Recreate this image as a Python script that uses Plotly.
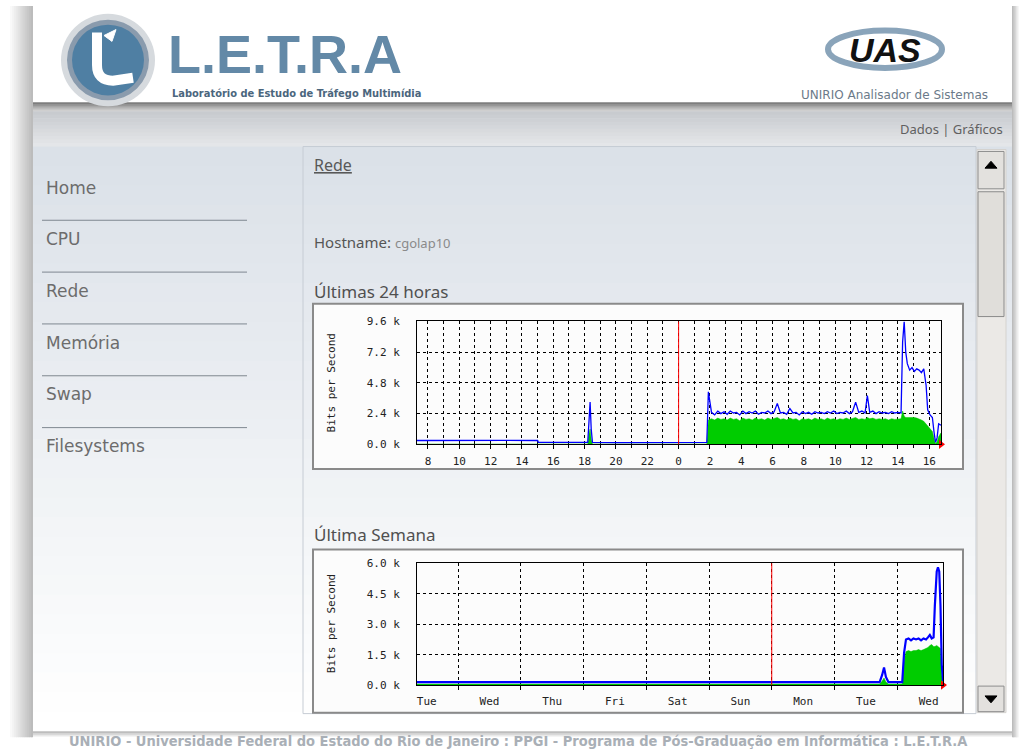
import plotly.graph_objects as go

W, H = 1022, 756

# ---------------- data ----------------
# Daily graph: hours since midnight of day 1 (24 = 00:00 of day 2), values in k bits/s
day_hours = [7.3, 9.0, 11.0, 13.0, 15.0, 15.05, 17.0, 18.2, 18.28, 18.35, 18.42, 18.5, 20.0, 22.0, 24.0, 25.8,
             25.9, 26.1, 26.3, 26.5, 26.7, 26.9, 27.1, 27.3, 27.5, 27.7, 27.9, 28.1, 28.3, 28.5, 28.7, 28.9,
             29.1, 29.3, 29.5, 29.7, 29.9, 30.1, 30.3, 30.5, 30.7, 30.9, 31.1, 31.3, 31.5, 31.7, 31.9, 32.1,
             32.3, 32.5, 32.7, 32.9, 33.1, 33.3, 33.5, 33.7, 33.9, 34.1, 34.3, 34.5, 34.7, 34.9, 35.1, 35.3,
             35.5, 35.7, 35.9, 36.05, 36.2, 36.4, 36.6, 36.8, 37.0, 37.2, 37.4, 37.6, 37.8, 38.0, 38.2,
             38.3, 38.4, 38.5, 38.6, 38.75, 38.9, 39.05, 39.2, 39.35, 39.5, 39.65, 39.8, 39.9, 40.05, 40.2,
             40.3, 40.4, 40.5, 40.6, 40.75]
day_out = [0.3, 0.32, 0.3, 0.31, 0.3, 0.15, 0.16, 0.15, 1.8, 3.3, 1.2, 0.15, 0.14, 0.16, 0.15, 0.15,
           4.1, 2.5, 2.3, 2.6, 2.4, 2.55, 2.35, 2.6, 2.45, 2.5, 2.3, 2.6, 2.4, 2.55, 2.45, 2.6,
           2.35, 2.5, 2.45, 2.6, 2.4, 2.55, 3.2, 2.45, 2.5, 2.35, 2.8, 2.45, 2.5, 2.3, 2.55, 2.4,
           2.5, 2.35, 2.55, 2.45, 2.5, 2.4, 2.55, 2.45, 2.6, 2.4, 2.5, 2.45, 2.6, 2.4, 2.55, 3.3,
           2.5, 2.6, 2.45, 3.8, 2.5, 2.6, 2.4, 2.55, 2.45, 2.5, 2.4, 2.55, 2.45, 2.5, 2.45,
           8.0, 9.6, 7.2, 6.3, 5.8, 6.0, 5.7, 5.9, 5.8, 5.6, 5.9, 4.6, 2.7, 2.3, 2.1,
           1.0, 0.15, 0.5, 1.6, 1.5]
day_in = [0.02, 0.02, 0.02, 0.02, 0.02, 0.02, 0.02, 0.02, 0.8, 1.2, 0.4, 0.02, 0.02, 0.02, 0.02, 0.02,
          1.9, 2.0, 1.9, 2.05, 1.95, 2.0, 1.9, 2.05, 1.95, 2.0, 1.85, 2.05, 1.95, 2.0, 1.9, 2.05,
          1.95, 2.0, 1.9, 2.05, 1.95, 2.0, 2.1, 1.95, 2.0, 1.9, 2.05, 1.95, 2.0, 1.85, 2.0, 1.95,
          2.0, 1.9, 2.05, 1.95, 2.0, 1.9, 2.05, 1.95, 2.0, 1.9, 2.0, 1.95, 2.05, 1.95, 2.0, 2.1,
          1.95, 2.0, 1.95, 2.1, 2.0, 2.05, 1.95, 2.0, 1.95, 2.0, 1.9, 2.0, 1.95, 2.0, 2.0,
          2.6, 2.2, 2.1, 2.1, 2.15, 2.1, 2.1, 2.05, 2.0, 1.9, 1.8, 1.6, 1.4, 1.2, 1.0,
          0.5, 0.02, 0.2, 0.6, 0.9]
day_range = [7.3, 40.75]
day_label_hours = [8, 10, 12, 14, 16, 18, 20, 22, 24, 26, 28, 30, 32, 34, 36, 38, 40]
day_tick_labels = ["8", "10", "12", "14", "16", "18", "20", "22", "0", "2", "4", "6", "8", "10", "12", "14", "16"]
day_y_vals = [0, 2.4, 4.8, 7.2, 9.6]
day_y_labels = ["0.0 k", "2.4 k", "4.8 k", "7.2 k", "9.6 k"]
day_marker = 24  # red line (midnight)

# Weekly graph: days (1 = first midnight), values in k bits/s
week_days = [0.345, 1.5, 3.0, 4.5, 6.0, 7.0, 7.72, 7.76, 7.79, 7.82, 7.86, 8.0, 8.08, 8.11, 8.14, 8.18,
             8.22, 8.26, 8.30, 8.34, 8.38, 8.42, 8.46, 8.49, 8.52, 8.55, 8.58, 8.60, 8.63, 8.65, 8.67,
             8.69, 8.71, 8.73]
week_out = [0.15, 0.15, 0.15, 0.15, 0.15, 0.15, 0.15, 0.5, 0.87, 0.4, 0.15, 0.15, 0.15, 1.6, 2.25, 2.3,
            2.2, 2.3, 2.25, 2.3, 2.2, 2.3, 2.25, 2.35, 2.47, 2.3, 2.35, 3.9, 5.6, 5.8, 5.6,
            3.9, 1.0, 0.2]
week_in = [0.05, 0.05, 0.05, 0.05, 0.05, 0.05, 0.05, 0.2, 0.35, 0.15, 0.05, 0.05, 0.05, 1.2, 1.65, 1.7,
           1.65, 1.7, 1.7, 1.75, 1.7, 1.75, 1.8, 1.85, 1.95, 2.0, 1.9, 1.9, 1.95, 1.9, 1.85,
           1.8, 0.5, 0.05]
week_range = [0.345, 8.73]
week_label_pos = [0.5, 1.5, 2.5, 3.5, 4.5, 5.5, 6.5, 7.5, 8.5]
week_labels = ["Tue", "Wed", "Thu", "Fri", "Sat", "Sun", "Mon", "Tue", "Wed"]
week_y_vals = [0, 1.5, 3.0, 4.5, 6.0]
week_y_labels = ["0.0 k", "1.5 k", "3.0 k", "4.5 k", "6.0 k"]
week_marker = 6  # red line (start of week)

nav_items = ["Home", "CPU", "Rede", "Memória", "Swap", "Filesystems"]

# ---------------- helpers ----------------
def X(px):
    return px / W

def Y(py):
    return 1 - py / H

def hexmix(c0, c1, t):
    a = [int(c0[i:i + 2], 16) for i in (1, 3, 5)]
    b = [int(c1[i:i + 2], 16) for i in (1, 3, 5)]
    return "#" + "".join("%02x" % round(a[k] + (b[k] - a[k]) * t) for k in range(3))

shapes = []

def rect(x0, y0, x1, y1, fill, line=None, lw=0, layer="below"):
    shapes.append(dict(type="rect", xref="paper", yref="paper", x0=X(x0), x1=X(x1), y0=Y(y1), y1=Y(y0),
                       fillcolor=fill, line=dict(width=lw, color=line or fill), layer=layer))

def vgrad(x0, y0, x1, y1, c0, c1, n):
    for i in range(n):
        ya = y0 + (y1 - y0) * i / n
        yb = y0 + (y1 - y0) * (i + 1) / n + 0.6
        rect(x0, ya, x1, yb, hexmix(c0, c1, i / max(n - 1, 1)))

def hgrad(x0, y0, x1, y1, c0, c1, n):
    for i in range(n):
        xa = x0 + (x1 - x0) * i / n
        xb = x0 + (x1 - x0) * (i + 1) / n + 0.6
        rect(xa, y0, xb, y1, hexmix(c0, c1, i / max(n - 1, 1)))

def path(pts, fill=None, line="black", lw=1, layer="below", closed=True):
    d = "M " + " L ".join("%f,%f" % (X(a), Y(b)) for a, b in pts) + (" Z" if closed else "")
    shapes.append(dict(type="path", xref="paper", yref="paper", path=d,
                       fillcolor=fill or "rgba(0,0,0,0)", line=dict(width=lw, color=line), layer=layer))

def circle(cx, cy, r, fill, line=None, lw=0, rx=None, layer="below"):
    rx = rx or r
    shapes.append(dict(type="circle", xref="paper", yref="paper", x0=X(cx - rx), x1=X(cx + rx),
                       y0=Y(cy + r), y1=Y(cy - r), fillcolor=fill,
                       line=dict(width=lw, color=line or "rgba(0,0,0,0)"), layer=layer))

# ---------------- page decoration ----------------
hgrad(8, 0, 33, 744, "#ffffff", "#bcbcbc", 12)
hgrad(1012, 0, 1020, 744, "#bcbcbc", "#ffffff", 6)
rect(33, 0, 1012, 100, "#ffffff")
vgrad(33, 98, 1012, 107, "#7e7e7e", "#cfcfcf", 5)
vgrad(33, 107, 1012, 143, "#c8cbcf", "#e4e6e9", 10)
vgrad(33, 143, 1012, 738, "#dbe1e8", "#ffffff", 30)
vgrad(33, 738, 1012, 745, "#bdbdbd", "#ffffff", 4)
# content box
shapes.append(dict(type="rect", xref="paper", yref="paper", x0=X(303), x1=X(976), y0=Y(720), y1=Y(143),
                   fillcolor="rgba(0,0,0,0)", line=dict(width=1, color="#c6ccd4"), layer="below"))
# scrollbar
rect(977, 146, 1006, 719, "#ebe9e6", "#d4d2cf", 1)
rect(978, 148, 1004, 186, "#e3e1de", "#8e8e8e", 1)
path([(985, 165), (997, 165), (991, 158)], fill="#000000", line="#000000", lw=1)
rect(978, 189, 1004, 316, "#e0deda", "#8a8a8a", 1)
rect(978, 692, 1004, 718, "#e3e1de", "#8e8e8e", 1)
path([(985, 702), (997, 702), (991, 709)], fill="#000000", line="#000000", lw=1)
# nav separators
for k in range(5):
    yy = 218 + k * 52.75
    shapes.append(dict(type="line", xref="paper", yref="paper", x0=X(42), x1=X(247), y0=Y(yy), y1=Y(yy),
                       line=dict(width=1, color="#7f8790"), layer="above"))
# chart frames
rect(313, 303, 963, 471, "#fcfcfc", "#8a8a8a", 2)
rect(313, 553, 963, 719, "#fcfcfc", "#8a8a8a", 2)
# L.E.T.R.A logo
circle(108, 55, 47, "#d6dade")
circle(108, 55, 41, "#8a9bad")
circle(108, 55, 36, "#4f7fa3")
shapes.append(dict(type="path", xref="paper", yref="paper",
                   path="M %f,%f L %f,%f Q %f,%f %f,%f L %f,%f" % (X(97), Y(27), X(97), Y(60), X(97), Y(76),
                                                                  X(113), Y(76), X(133), Y(73)),
                   fillcolor="rgba(0,0,0,0)", line=dict(width=10, color="#ffffff"), layer="below"))
path([(104, 30), (116, 24), (112, 36)], fill="#ffffff", line="#ffffff", lw=1)
# UAS swoosh
circle(885, 44, 19, "rgba(0,0,0,0)", "#8aa4ba", 6, rx=57)

# ---------------- figure ----------------
fig = go.Figure()

fig.add_trace(go.Scatter(x=day_hours, y=day_in, mode="lines", fill="tozeroy", fillcolor="#00cc00",
                         line=dict(color="#00c400", width=0.5), xaxis="x", yaxis="y", hoverinfo="skip"))
fig.add_trace(go.Scatter(x=day_hours, y=day_out, mode="lines", line=dict(color="#0000ff", width=1.3),
                         xaxis="x", yaxis="y", hoverinfo="skip"))
fig.add_trace(go.Scatter(x=[day_range[1]], y=[0], mode="markers", cliponaxis=False,
                         marker=dict(symbol="triangle-right", size=8, color="#ff0000"), xaxis="x", yaxis="y"))

fig.add_trace(go.Scatter(x=week_days, y=week_in, mode="lines", fill="tozeroy", fillcolor="#00cc00",
                         line=dict(color="#00c400", width=0.5), xaxis="x2", yaxis="y2", hoverinfo="skip"))
fig.add_trace(go.Scatter(x=week_days, y=week_out, mode="lines", line=dict(color="#0000ff", width=2.2),
                         xaxis="x2", yaxis="y2", hoverinfo="skip"))
fig.add_trace(go.Scatter(x=[week_range[1]], y=[0], mode="markers", cliponaxis=False,
                         marker=dict(symbol="triangle-right", size=8, color="#ff0000"), xaxis="x2", yaxis="y2"))

mono = dict(family="DejaVu Sans Mono", size=11, color="#222222")
grid = dict(showgrid=True, gridcolor="#000000", griddash="dot", gridwidth=1)
axline = dict(showline=True, linecolor="#000000", linewidth=1, mirror=True, zeroline=False)

fig.update_layout(
    width=W, height=H, margin=dict(l=0, r=0, t=0, b=0), autosize=False,
    paper_bgcolor="#ffffff", plot_bgcolor="#ffffff", showlegend=False,
    xaxis=dict(domain=[X(417), X(941)], anchor="y", range=day_range, tickmode="array",
               tickvals=day_label_hours, ticktext=day_tick_labels, tickfont=mono, ticks="outside",
               ticklen=4, tickcolor="#000000", ticklabelstandoff=2,
               minor=dict(tickmode="linear", tick0=0, dtick=1, ticks="outside", ticklen=3, tickcolor="#000000",
                          showgrid=True, gridcolor="#000000", griddash="dot", gridwidth=1),
               **grid, **axline),
    yaxis=dict(domain=[Y(446), Y(321)], anchor="x", range=[0, 9.6], tickmode="array",
               tickvals=day_y_vals, ticktext=day_y_labels, tickfont=mono, ticks="", ticklabelstandoff=14,
               **grid, **axline),
    xaxis2=dict(domain=[X(417), X(943)], anchor="y2", range=week_range, tickmode="array",
                tickvals=week_label_pos, ticktext=week_labels, tickfont=mono, ticks="", ticklabelstandoff=6,
                showgrid=False,
                minor=dict(tickmode="linear", tick0=0, dtick=1, ticks="outside", ticklen=4, tickcolor="#000000",
                           showgrid=True, gridcolor="#000000", griddash="dot", gridwidth=1),
                **axline),
    yaxis2=dict(domain=[Y(691), Y(567)], anchor="x2", range=[0, 6.0], tickmode="array",
                tickvals=week_y_vals, ticktext=week_y_labels, tickfont=mono, ticks="", ticklabelstandoff=14,
                **grid, **axline),
    shapes=shapes,
)

# red markers
fig.add_shape(type="line", xref="x", yref="y domain", x0=day_marker, x1=day_marker, y0=0, y1=1,
              line=dict(color="#ff0000", width=1))
fig.add_shape(type="line", xref="x2", yref="y2 domain", x0=week_marker, x1=week_marker, y0=0, y1=1,
              line=dict(color="#ff0000", width=1))

def note(text, px, py, size, color, family="DejaVu Sans", xanchor="left", angle=0, **kw):
    fig.add_annotation(text=text, x=X(px), y=Y(py), xref="paper", yref="paper", showarrow=False,
                       xanchor=xanchor, yanchor="middle", textangle=angle,
                       font=dict(size=size, color=color, family=family), **kw)

# y axis titles
note("Bits per Second", 331, 384, 11, "#222222", family="DejaVu Sans Mono", xanchor="center", angle=-90)
note("Bits per Second", 331, 629, 11, "#222222", family="DejaVu Sans Mono", xanchor="center", angle=-90)

# navigation
for k, item in enumerate(nav_items):
    note(item, 44, 185 + k * 52.5, 17, "#6c6c6c")

# content text
note("<u>Rede</u>", 312, 162, 16, "#585858", family="Noto Sans")
note("Hostname: <span style='font-size:13px;color:#8a8a8a'>cgolap10</span>", 312, 240, 15, "#555555",
     family="Noto Sans")
note("Últimas 24 horas", 312, 290, 17, "#505050", family="Noto Sans")
note("Última Semana", 312, 538, 17, "#505050", family="Noto Sans")
note("Dados | Gráficos", 1005, 125, 13, "#606060", family="Noto Sans", xanchor="right")

# header
note("<b>L.E.T.R.A</b>", 167, 49, 54, "#6389a7", family="Liberation Sans", borderpad=0)
note("<b>Laboratório de Estudo de Tráfego Multimídia</b>", 171, 89, 11, "#4b667d",
     family="Liberation Sans Narrow, DejaVu Sans Condensed, Liberation Sans", borderpad=0)
note("<b><i>UAS</i></b>", 885, 45, 34, "#111111", family="Liberation Sans", xanchor="center")
note("UNIRIO Analisador de Sistemas", 990, 91, 12, "#6b7a89", xanchor="right")

# footer
note("<b>UNIRIO - Universidade Federal do Estado do Rio de Janeiro : PPGI - Programa de Pós-Graduação em Informática : L.E.T.R.A</b>",
     518, 748, 14.5, "#a9afb6", family="Liberation Sans Narrow, DejaVu Sans Condensed, Liberation Sans",
     xanchor="center")

fig.write_html("out.html", config={"displayModeBar": False},
               post_script="document.body.style.margin='0';document.body.style.overflow='hidden';")
